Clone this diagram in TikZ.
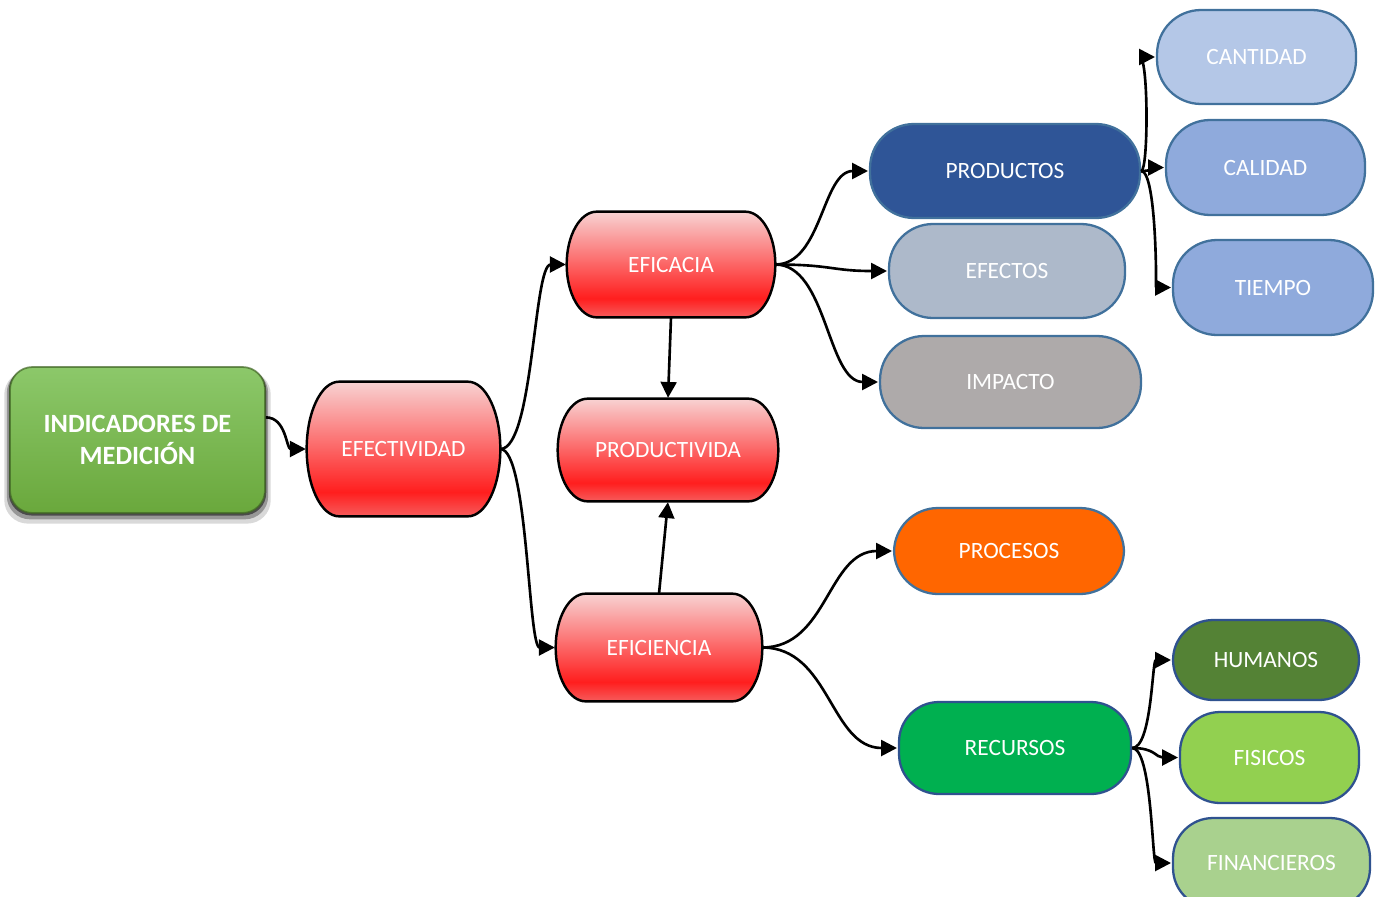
\documentclass[tikz,border=0pt]{standalone}
\usepackage{fontspec}
\setmainfont{Carlito}
\usetikzlibrary{arrows.meta, calc, positioning, shadows}

\pgfdeclarelayer{back}
\pgfsetlayers{back,main}

\definecolor{rtop}{HTML}{F8D2D2}
\definecolor{rpeak}{HTML}{FF1E1E}
\definecolor{rlow}{HTML}{F65C5C}
\definecolor{indtop}{HTML}{8CC86A}
\definecolor{indbot}{HTML}{6AA83C}
\definecolor{blueline}{HTML}{41719C}
\definecolor{darkline}{HTML}{2F528F}
\definecolor{productosfill}{HTML}{2F5597}
\definecolor{efectosfill}{HTML}{ADB9CA}
\definecolor{impactofill}{HTML}{AEAAAA}
\definecolor{cantidadfill}{HTML}{B4C7E7}
\definecolor{calidadfill}{HTML}{8FAADC}
\definecolor{procesosfill}{HTML}{FF6600}
\definecolor{recursosfill}{HTML}{00B050}
\definecolor{humanosfill}{HTML}{548235}
\definecolor{fisicosfill}{HTML}{92D050}
\definecolor{financierosfill}{HTML}{A9D18E}

\pgfdeclareverticalshading{redglow}{100bp}{%
    color(0bp)=(rlow); color(25bp)=(rlow);
    color(34bp)=(rpeak);
    color(75bp)=(rtop); color(100bp)=(rtop)}

\tikzset{
    redbox/.style = {
        text=white,
        font=\fontsize{13.3}{16}\selectfont
    },
    redpill/.style = {
        draw=black,
        line width=1.4pt,
        shading=redglow
    },
    pillbox/.style = {
        draw=blueline,
        line width=1.3pt,
        rounded corners=0.88cm,
        fill=#1,
        text=white,
        font=\fontsize{13.3}{16}\selectfont
    },
    greenpill/.style = {
        pillbox=#1,
        draw=darkline,
        rounded corners=0.8cm
    },
    indbox/.style = {
        rounded corners=0.45cm,
        top color=indtop,
        bottom color=indbot,
        draw=indbot!60!black,
        draw opacity=0.7,
        line width=1pt,
        text=white,
        align=center,
        font=\fontsize{15}{18}\selectfont\bfseries,
        general shadow={fill=black, opacity=0.15, shadow scale=1.045, shadow yshift=-4pt},
        general shadow={fill=black, opacity=0.3, shadow scale=1.025, shadow yshift=-2.5pt},
        general shadow={fill=black, opacity=0.5, shadow scale=1.01, shadow yshift=-1pt}
    },
    link/.style = {
        line width=1.5pt,
        -{Triangle[length=9pt, width=9pt]},
        shorten >=0.5pt
    },
    scurve/.style = {
        to path={let \p1=(\tikztostart), \p2=(\tikztotarget) in
            (\tikztostart) .. controls (0.5*\x1+0.5*\x2,\y1) and (0.5*\x1+0.5*\x2,\y2) .. (\tikztotarget) \tikztonodes}
    }
}

\begin{document}
\begin{tikzpicture}[x=0.02cm, y=-0.02cm]

\useasboundingbox (0,0) rectangle (1382,896);

% root
\node [indbox,
    minimum width=5.1cm,
    minimum height=2.92cm
] (indicadores) at (137.5,440) {INDICADORES DE\\MEDICIÓN};

% red column
\node [redbox,
    minimum width=3.86cm,
    minimum height=2.68cm
] (efectividad) at (403.5,449) {EFECTIVIDAD};

\node [redbox,
    minimum width=4.16cm,
    minimum height=2.1cm
] (eficacia) at (671,264.5) {EFICACIA};

\node [redbox,
    minimum width=4.4cm,
    minimum height=2.04cm
] (productivida) at (668,450) {PRODUCTIVIDA};

\node [redbox,
    minimum width=4.12cm,
    minimum height=2.14cm
] (eficiencia) at (659,647.5) {EFICIENCIA};

% red outlines with elliptic ends, behind the texts
\begin{pgfonlayer}{back}
\foreach \b/\r in {efectividad/0.65cm, eficacia/0.6cm, productivida/0.6cm, eficiencia/0.6cm}
    \path[redpill] let \p1=(\b.north east), \p2=(\b.south west) in
        (\x2+\r,\y1) -- (\x1-\r,\y1)
        arc[start angle=90, end angle=-90, x radius=\r, y radius={0.5*(\y1-\y2)}]
        -- (\x2+\r,\y2)
        arc[start angle=270, end angle=90, x radius=\r, y radius={0.5*(\y1-\y2)}]
        -- cycle;
\end{pgfonlayer}

% eficacia branch
\node [pillbox=productosfill,
    minimum width=5.4cm,
    minimum height=1.88cm
] (productos) at (1005,171) {PRODUCTOS};

\node [pillbox=efectosfill,
    minimum width=4.72cm,
    minimum height=1.88cm
] (efectos) at (1007,271) {EFECTOS};

\node [pillbox=impactofill,
    minimum width=5.22cm,
    minimum height=1.84cm
] (impacto) at (1010.5,382) {IMPACTO};

\node [pillbox=cantidadfill,
    minimum width=3.98cm,
    minimum height=1.88cm
] (cantidad) at (1256.5,57) {CANTIDAD};

\node [pillbox=calidadfill,
    minimum width=3.98cm,
    minimum height=1.9cm
] (calidad) at (1265.5,167.5) {CALIDAD};

\node [pillbox=calidadfill,
    minimum width=4cm,
    minimum height=1.9cm
] (tiempo) at (1273,287.5) {TIEMPO};

% eficiencia branch
\node [pillbox=procesosfill,
    minimum width=4.6cm,
    minimum height=1.72cm
] (procesos) at (1009,551) {PROCESOS};

\node [greenpill=recursosfill,
    minimum width=4.64cm,
    minimum height=1.84cm
] (recursos) at (1015,748) {RECURSOS};

\node [greenpill=humanosfill,
    minimum width=3.72cm,
    minimum height=1.6cm
] (humanos) at (1266,660) {HUMANOS};

\node [greenpill=fisicosfill,
    minimum width=3.58cm,
    minimum height=1.82cm
] (fisicos) at (1269.5,757.5) {FISICOS};

\node [greenpill=financierosfill,
    minimum width=3.94cm,
    minimum height=1.8cm
] (financieros) at (1271.5,863) {FINANCIEROS};

\draw[link] (indicadores.10) to[scurve] (efectividad.west);
\draw[link] (efectividad.east) to[scurve] (eficacia.west);
\draw[link] (efectividad.east) to[scurve] (eficiencia.west);
\draw[link] (eficacia.south) -- (productivida.north);
\draw[link] (eficiencia.north) -- (productivida.south);

\draw[link] (eficacia.east) to[scurve] (productos.west);
\draw[link] (eficacia.east) to[scurve] (efectos.west);
\draw[link] (eficacia.east) to[scurve] (impacto.west);

\draw[link] (productos.east) to[scurve] (cantidad.west);
\draw[link] (productos.east) to[scurve] (calidad.west);
\draw[link] (productos.east) to[scurve] (tiempo.west);

\draw[link] (eficiencia.east) to[scurve] (procesos.west);
\draw[link] (eficiencia.east) to[scurve] (recursos.west);

\draw[link] (recursos.east) to[scurve] (humanos.west);
\draw[link] (recursos.east) to[scurve] (fisicos.west);
\draw[link] (recursos.east) to[scurve] (financieros.west);

\end{tikzpicture}
\end{document}
